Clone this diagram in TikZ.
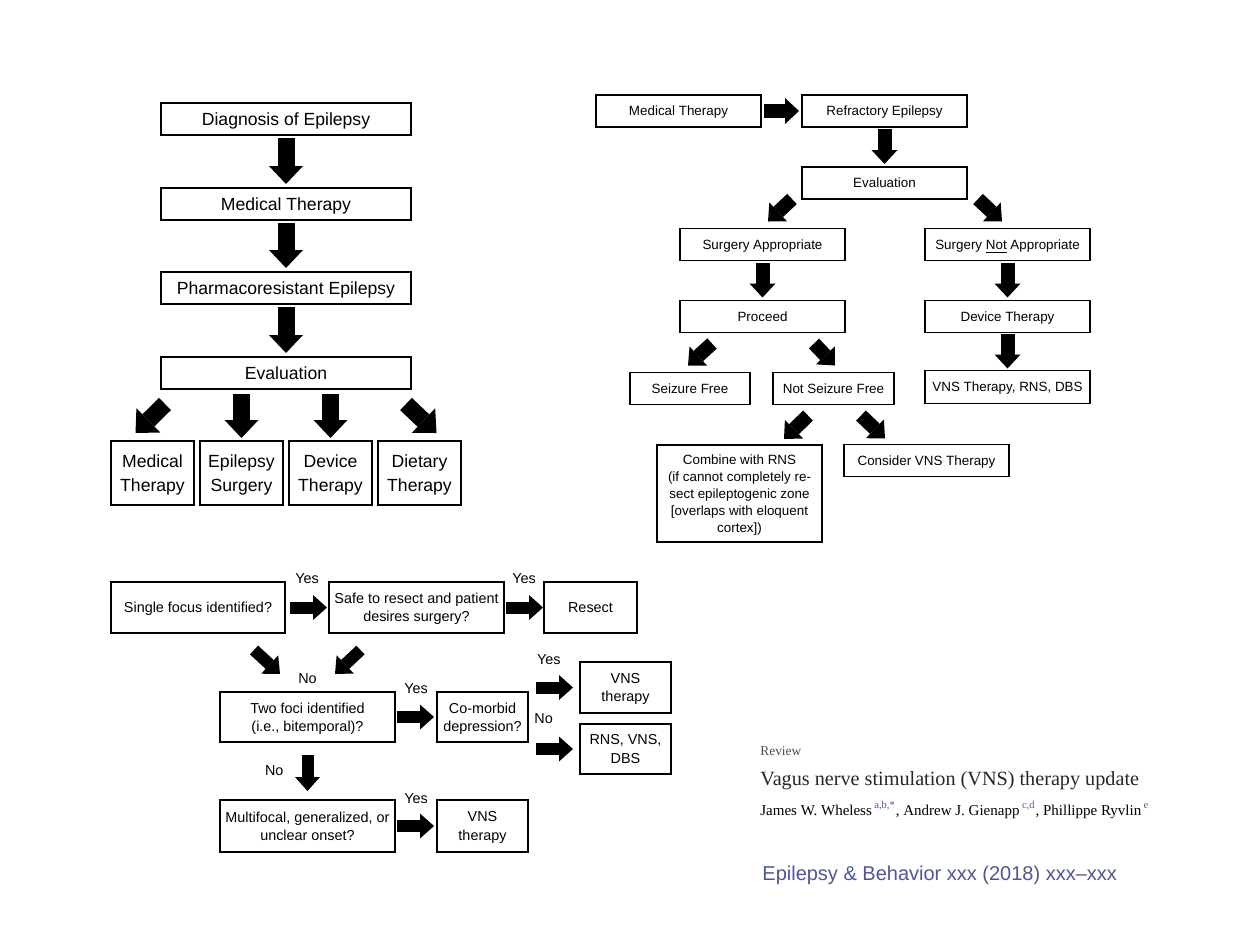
\documentclass[tikz,border=0pt]{standalone}
\usepackage{fontspec}
\setmainfont{Liberation Serif}
\setsansfont{Liberation Sans}
\usetikzlibrary{arrows.meta, positioning}
\definecolor{journalblue}{RGB}{80,84,152}

\begin{document}
\begin{tikzpicture}[
    x=0.5pt, y=-0.5pt,
    font=\sffamily,
    % Box styles for the three flow charts
    mainbox/.style={rectangle, draw, line width=1pt, outer sep=0pt, inner sep=1pt, text depth=0pt, align=center, minimum width=125pt, minimum height=16pt, font=\sffamily\fontsize{8.8}{11.7}\selectfont},
    subbox/.style={mainbox, minimum width=41.5pt, minimum height=32pt},
    flowbox/.style={rectangle, draw, line width=0.7pt, outer sep=0pt, inner sep=1pt, text depth=0pt, align=center, minimum width=82.5pt, minimum height=16pt, font=\sffamily\fontsize{6.7}{8.5}\selectfont},
    askbox/.style={rectangle, draw, line width=0.75pt, outer sep=0pt, inner sep=2pt, text depth=0pt, align=center, minimum width=87.5pt, minimum height=25.5pt, font=\sffamily\fontsize{7.2}{9.2}\selectfont},
    endbox/.style={askbox, minimum width=45.5pt},
    lbl/.style={inner sep=0pt, font=\sffamily\fontsize{7.2}{9}\selectfont},
    paper/.style={inner sep=0pt, anchor=base west},
    % Block arrows
    bigarrow/.style={line width=8.5pt, -{Triangle[width=17pt, length=9pt, line width=0pt]}},
    midarrow/.style={line width=7pt, -{Triangle[width=13pt, length=7pt, line width=0pt]}},
    smallarrow/.style={line width=6pt, -{Triangle[width=12.5pt, length=7pt, line width=0pt]}},
]
\useasboundingbox (0,0) rectangle (1242,932);

% -------------------------
% Chart 1 (top left)
% -------------------------
\node[mainbox] (diag) at (286,119) {Diagnosis of Epilepsy};
\node[mainbox, below=26.5pt of diag] (med) {Medical Therapy};
\node[mainbox, below=26pt of med] (pharm) {Pharmacoresistant Epilepsy};
\node[mainbox, below=26.5pt of pharm] (eval) {Evaluation};

\node[subbox] (tmed) at (152.5,473) {Medical\\Therapy};
\node[subbox, right=3pt of tmed] (tsurg) {Epilepsy\\Surgery};
\node[subbox, right=3pt of tsurg] (tdev) {Device\\Therapy};
\node[subbox, right=3pt of tdev] (tdiet) {Dietary\\Therapy};

\draw[bigarrow, shorten <=1.5pt, shorten >=2pt] (diag) -- (med);
\draw[bigarrow, shorten <=1.5pt, shorten >=2pt] (med) -- (pharm);
\draw[bigarrow, shorten <=1.5pt, shorten >=2pt] (pharm) -- (eval);

\draw[bigarrow] ([shift={(4,15)}]eval.south west) -- ([shift={(-17,-8)}]tmed.north);
\draw[bigarrow, shorten <=2.5pt, shorten >=1.5pt] (eval.south -| tsurg.north) -- (tsurg.north);
\draw[bigarrow, shorten <=2.5pt, shorten >=1.5pt] (eval.south -| tdev.north) -- (tdev.north);
\draw[bigarrow] ([shift={(-5,15)}]eval.south east) -- ([shift={(17,-8)}]tdiet.north);

% -------------------------
% Chart 2 (top right)
% -------------------------
\node[flowbox] (tmed2) at (678.5,111) {Medical Therapy};
\node[flowbox, right=20.5pt of tmed2] (refr) {Refractory Epilepsy};
\node[flowbox, below=20pt of refr] (eval2) {Evaluation};
\node[flowbox] (sapp) at (762.5,244.5) {Surgery Appropriate};
\node[flowbox] (snapp) at (1007.5,244.5) {Surgery \underline{Not} Appropriate};
\node[flowbox, below=20pt of sapp] (proc) {Proceed};
\node[flowbox, below=20pt of snapp] (devt) {Device Therapy};
\node[flowbox, below=19pt of devt, minimum height=16.5pt] (vrd) {VNS Therapy, RNS, DBS};
\node[flowbox, minimum width=60pt] (sfree) at (690,388.5) {Seizure Free};
\node[flowbox, minimum width=60.5pt] (nsfree) at (833.5,388.5) {Not Seizure Free};
\node[flowbox, minimum height=48.5pt] (comb) at (739.5,493.5) {Combine with RNS\\(if cannot completely re-\\sect epileptogenic zone\\{[}overlaps with eloquent\\cortex{]})};
\node[flowbox] (cvns) at (926.5,460.5) {Consider VNS Therapy};

\draw[midarrow, shorten <=1.5pt, shorten >=1.5pt] (tmed2) -- (refr);
\draw[midarrow, shorten <=1pt, shorten >=1.5pt] (refr) -- (eval2);
\draw[midarrow] ([shift={(-10,0)}]eval2.south west) -- ([shift={(5.5,-7)}]sapp.north);
\draw[midarrow] ([shift={(11,0)}]eval2.south east) -- ([shift={(-5.5,-7)}]snapp.north);
\draw[midarrow, shorten <=1pt, shorten >=1.5pt] (sapp) -- (proc);
\draw[midarrow, shorten <=1pt, shorten >=1.5pt] (snapp) -- (devt);
\draw[midarrow, shorten <=0.5pt, shorten >=1pt] (devt) -- (vrd);
\draw[midarrow] ([shift={(32,11)}]proc.south west) -- ([shift={(-2,-7)}]sfree.north);
\draw[midarrow] ([shift={(-31,11)}]proc.south east) -- ([shift={(1.5,-7)}]nsfree.north);
\draw[midarrow] ([shift={(-25.5,11)}]nsfree.south) -- ([shift={(44.5,-6)}]comb.north);
\draw[midarrow] ([shift={(27.5,11)}]nsfree.south) -- ([shift={(-41.5,-6)}]cvns.north);

% -------------------------
% Chart 3 (bottom left)
% -------------------------
\node[askbox, minimum width=87pt] (single) at (198,607.5) {Single focus identified?};
\node[askbox, right=22pt of single] (safe) {Safe to resect and patient\\desires surgery?};
\node[endbox, right=20pt of safe, minimum width=46.5pt] (resect) {Resect};
\node[askbox, minimum height=25pt] (two) at (307.5,717) {Two foci identified\\(i.e., bitemporal)?};
\node[endbox, right=21pt of two, minimum height=25pt] (comorb) {Co-morbid\\depression?};
\node[endbox] (vns1) at (625.5,687.5) {VNS\\therapy};
\node[endbox, minimum height=25pt] (rvd) at (625.5,749) {RNS, VNS,\\DBS};
\node[askbox, below=29pt of two, minimum height=26pt] (multi) {Multifocal, generalized, or\\unclear onset?};
\node[endbox, right=21pt of multi, minimum height=26pt] (vns2) {VNS\\therapy};
\node[lbl, above=4pt of two] (nolbl) {No};

\draw[smallarrow, shorten <=2.5pt, shorten >=1pt] (single) -- (safe) node[lbl, midway, above=8.75pt] (yes1) {Yes};
\draw[smallarrow, shorten <=1pt, shorten >=0.5pt] (safe) -- (resect) node[lbl, midway, above=8.75pt] (yes2) {Yes};
\draw[smallarrow] ([shift={(56,17)}]single.south) -- ([shift={(-27.5,-18)}]two.north);
\draw[smallarrow] ([shift={(-56,17)}]safe.south) -- ([shift={(27.5,-18)}]two.north);
\draw[smallarrow, shorten <=1pt, shorten >=1.5pt] (two) -- (comorb) node[lbl, midway, above=8.75pt] (yes3) {Yes};
\draw[smallarrow, shorten <=4pt, shorten >=3.5pt] (comorb.east |- vns1.west) -- (vns1.west) node[lbl, pos=0.4, above=8.5pt] (yes4) {Yes};
\draw[smallarrow, shorten <=4pt, shorten >=3.5pt] (comorb.east |- rvd.west) -- (rvd.west) node[lbl, pos=0.3, above=9.5pt] (no2) {No};
\draw[smallarrow, shorten <=6.5pt, shorten >=4.5pt] (two) -- (multi) node[lbl, midway, left=9pt] (no3) {No};
\draw[smallarrow, shorten <=1pt, shorten >=1.5pt] (multi) -- (vns2) node[lbl, midway, above=8.25pt] (yes5) {Yes};

% -------------------------
% Article header (bottom right)
% -------------------------
\node[paper, font=\rmfamily\fontsize{6.7}{8}\selectfont, text=black!70] (review) at (760,755) {Review};
\node[paper, font=\rmfamily\fontsize{10.1}{12}\selectfont, text=black!85] (title) at (760,785) {Vagus nerve stimulation (VNS) therapy update};
\node[paper, font=\rmfamily\fontsize{7.5}{9}\selectfont] (authors) at (760,815) {James W. Wheless\,\textsuperscript{\textcolor{journalblue}{a,b,*}}, Andrew J. Gienapp\,\textsuperscript{\textcolor{journalblue}{c,d}}, Phillippe Ryvlin\,\textsuperscript{\textcolor{journalblue}{e}}};
\node[paper, font=\sffamily\fontsize{10}{12}\selectfont, text=journalblue] (journal) at (762,880.5) {Epilepsy \& Behavior xxx (2018) xxx–xxx};

\end{tikzpicture}
\end{document}
